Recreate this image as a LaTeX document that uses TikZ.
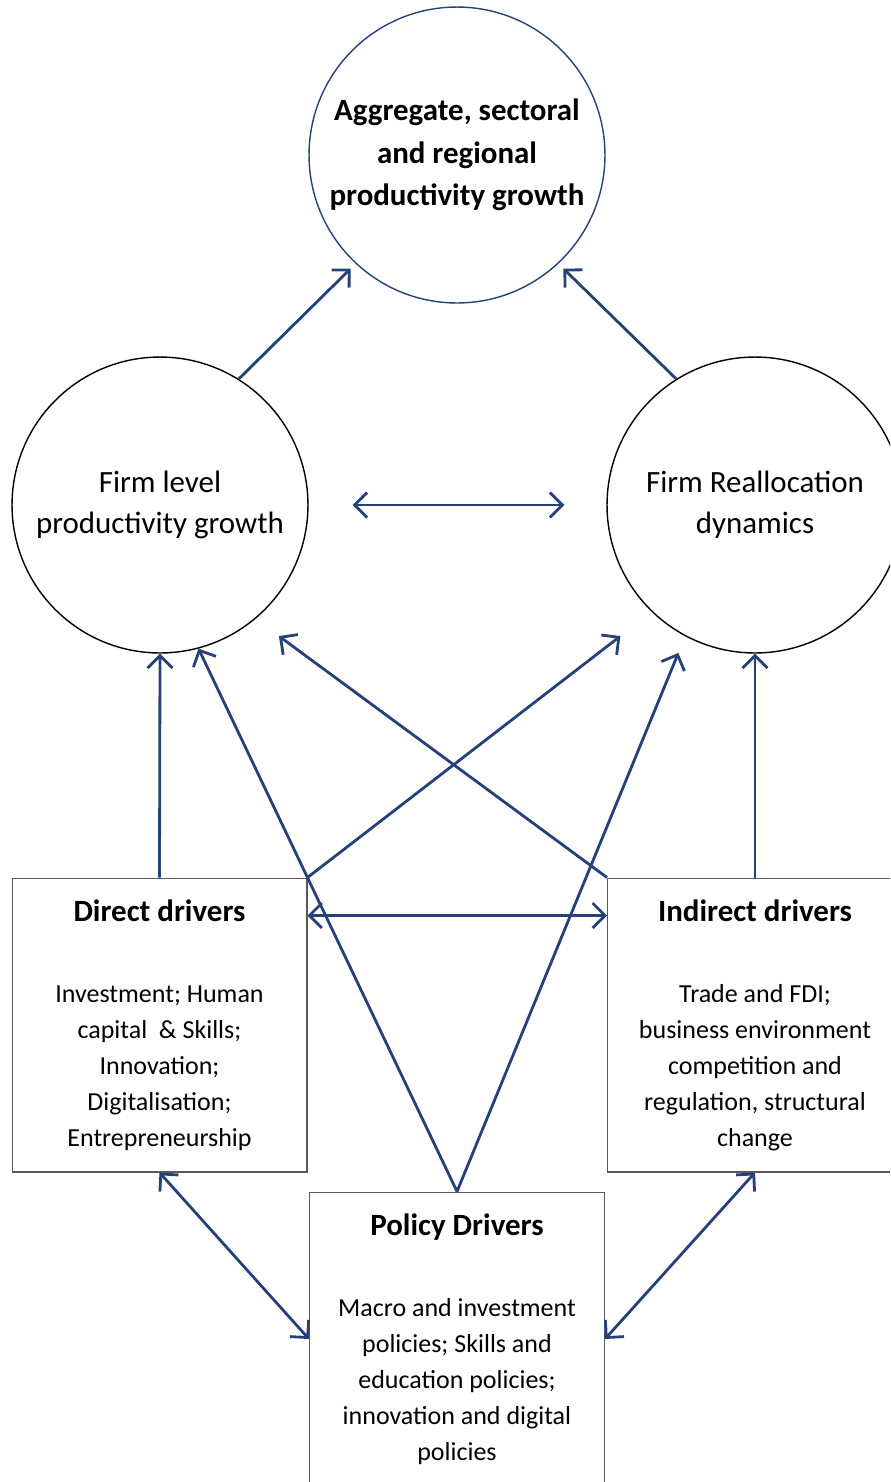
\documentclass[tikz,border=0pt]{standalone}
\usepackage{fontspec}
\setmainfont{Carlito}
\usetikzlibrary{arrows.meta,calc,positioning,shapes.geometric}
\definecolor{linkblue}{RGB}{38,64,122}
\tikzset{
>={Straight Barb[length=2.5mm,width=5mm]},
  bubble/.style={
    circle,
    draw=black, line width=0.8pt,
    minimum size=5.92cm,
    inner sep=0pt,
    align=center,
    font=\fontsize{17.6}{23.5}\selectfont},
  driverbox/.style={
    rectangle,
    draw=black!65, line width=0.6pt,
    minimum width=5.9cm,
    minimum height=5.88cm,
    inner sep=0pt,
    align=center,
    font=\fontsize{14.8}{20.4}\selectfont},
  link/.style={draw=linkblue, line width=1.6pt, ->},
}
\newcommand{\boxtitle}[1]{{\fontsize{17.6}{20.4}\selectfont\bfseries #1}}

\begin{document}
\begin{tikzpicture}[
    x=0.02cm, y=-0.02cm,
    both/.style={link, <->}
    ]

    \useasboundingbox (0,0) rectangle (890,1482);
    \clip (0,0) rectangle (890,1482);

    % circles
    \node[bubble, draw=linkblue, font=\fontsize{17.6}{24.3}\selectfont\bfseries] (agg) at (457,155)
        {Aggregate, sectoral\\and regional\\productivity growth};
    \node[bubble] (firm) at (160,505) {Firm level\\productivity growth};
    \node[bubble] (realloc) at (755,505) {Firm Reallocation\\dynamics};

    % drivers
    \node[driverbox] (direct) at (159.5,1025)
        {\boxtitle{Direct drivers}\\[26pt]Investment; Human\\capital~ \& Skills;\\Innovation;\\Digitalisation;\\Entrepreneurship};
    \node[driverbox] (indirect) at (755,1025)
        {\boxtitle{Indirect drivers}\\[26pt]Trade and FDI;\\business environment\\competition and\\regulation, structural\\change};
    \node[driverbox] (policy) at (457,1339)
        {\boxtitle{Policy Drivers}\\[26pt]Macro and investment\\policies; Skills and\\education policies;\\innovation and digital\\policies};

    % links to aggregate growth
    \draw[link, shorten >=0.14cm] (firm.58) -- (agg.227.6);
    \draw[link, shorten >=0.14cm] (realloc.122) -- (agg.313.5);
    \draw[both, shorten <=0.88cm, shorten >=0.84cm] (firm) -- (realloc);

    % links from drivers
    \draw[link] (direct.north) -- (firm.south);
    \draw[link] (indirect.north) -- (realloc.south);
    \draw[link, shorten >=0.79cm] (direct.north east) -- (realloc.226);
    \draw[link, shorten >=0.58cm] (indirect.north west) -- (firm.310);
    \draw[link] (policy.north) -- (firm.285);
    \draw[link, shorten >=0.36cm] (policy.north) -- (realloc.242);
    \draw[both] ($(direct.north east)+(0,38)$) -- ($(indirect.north west)+(0,38)$);
    \draw[both] (direct.south) -- (policy.west);
    \draw[both] (indirect.south) -- (policy.east);

\end{tikzpicture}
\end{document}
